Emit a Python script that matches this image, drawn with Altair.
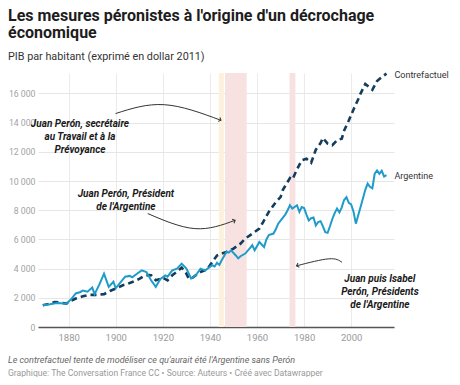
import altair as alt
import pandas as pd

# ---------------- data ----------------
arg_years = [1869, 1872, 1875, 1877, 1879, 1881, 1883, 1885, 1886, 1888, 1890, 1891, 1893, 1895,
             1897, 1899, 1900, 1902, 1904, 1906, 1907, 1909, 1911, 1913, 1915, 1917, 1919, 1921,
             1922, 1924, 1926, 1928, 1930, 1932, 1934, 1936, 1938, 1939, 1941, 1942, 1943, 1944,
             1945, 1947, 1948, 1949, 1951, 1952, 1953, 1955, 1957, 1958, 1959, 1961, 1962, 1963,
             1964, 1965, 1967, 1968, 1969, 1971, 1972, 1973, 1974, 1975, 1977, 1978, 1979, 1980,
             1981, 1982, 1983, 1984, 1985, 1986, 1987, 1988, 1989, 1990, 1991, 1992, 1993, 1994,
             1995, 1996, 1997, 1998, 1999, 2000, 2001, 2002, 2003, 2004, 2005, 2006, 2007, 2008,
             2009, 2010, 2011, 2012, 2013, 2014, 2015]
arg_values = [1490, 1560, 1650, 1620, 1600, 1900, 2300, 2400, 2500, 2420, 2700, 2250, 2900, 3650,
              2750, 3100, 2650, 3050, 3450, 3500, 3400, 3650, 3880, 3770, 3200, 2750, 3300, 3540,
              3450, 3880, 4000, 4340, 4000, 3320, 3540, 4000, 3880, 4000, 4230, 4150, 4400, 4250,
              4570, 5140, 5100, 5250, 4900, 4700, 4850, 5030, 5400, 5600, 5250, 5820, 5650, 5480,
              6000, 6300, 6400, 6700, 7080, 7500, 7700, 8000, 8340, 8110, 8340, 7880, 8220, 8150,
              7700, 7300, 7450, 7500, 6950, 7190, 7250, 6900, 6500, 6450, 6900, 7400, 7800, 8110,
              7850, 8200, 8700, 8900, 8500, 8400, 7900, 7080, 7650, 8220, 8800, 9400, 9820, 9600,
              9500, 10500, 10730, 10500, 10700, 10300, 10400]

cf_years = [1869, 1872, 1874, 1876, 1879, 1881, 1883, 1886, 1889, 1892, 1895, 1898, 1901, 1903,
            1905, 1907, 1910, 1912, 1914, 1915, 1917, 1919, 1920, 1922, 1924, 1926, 1928, 1930,
            1931, 1932, 1934, 1936, 1938, 1939, 1941, 1943, 1945, 1947, 1950, 1953, 1955, 1957,
            1959, 1961, 1963, 1965, 1968, 1970, 1971, 1974, 1975, 1977, 1979, 1981, 1983, 1985,
            1987, 1988, 1990, 1992, 1994, 1996, 1997, 1999, 2001, 2003, 2004, 2006, 2008, 2009,
            2011, 2013, 2015]
cf_values = [1490, 1600, 1700, 1680, 1600, 1800, 1950, 2100, 2200, 2200, 2250, 2500, 2700, 2860,
             2950, 3080, 3300, 3500, 3550, 3540, 3200, 3300, 3380, 3200, 3540, 3800, 4070, 3660,
             3320, 3300, 3540, 3770, 3900, 4000, 4450, 4900, 5030, 5140, 5370, 5710, 6060, 6280,
             6510, 6740, 7300, 7880, 8560, 8900, 9400, 10200, 10100, 10800, 11420, 11530, 11250, 12150,
             12600, 12950, 12560, 12450, 12790, 12900, 13450, 14150, 14900, 15600, 15990, 16650, 16380, 16250,
             16850, 17120, 17360]

band_start = [1943.8, 1946.4, 1973.8]
band_end = [1945.9, 1955.6, 1976.3]
band_kind = ["Secrétaire", "Président", "Président"]

x_ticks = [1880, 1900, 1920, 1940, 1960, 1980, 2000]
y_ticks = [0, 2000, 4000, 6000, 8000, 10000, 12000, 14000, 16000]

annot_text = [["Juan Perón, secrétaire", "au Travail et à la", "Prévoyance"],
              ["Juan Perón, Président", "de l'Argentine"],
              ["Juan puis Isabel", "Perón, Présidents", "de l'Argentine"]]
annot_year = [1884.8, 1904.3, 2012.2]
annot_value = [13930, 9140, 3320]

arrow_id = [1, 1, 1, 2, 2, 2, 3, 3, 3]
arrow_order = [0, 1, 2, 0, 1, 2, 0, 1, 2]
arrow_year = [1899.9, 1920.6, 1944.7, 1913.6, 1933.6, 1950.7, 1996.1, 1990.5, 1976.8]
arrow_value = [14620, 15230, 14160, 7770, 6740, 7310, 4430, 4670, 4190]
head_year = [1944.7, 1950.7, 1976.8]
head_value = [14160, 7310, 4190]
head_angle = [25, 335, 162]

# ---------------- styling ----------------
FONT = "Roboto"
W, H = 356, 254
LEFT = 30
ARG_COLOR = "#1f9bcb"
CF_COLOR = "#123d5e"

x_scale = alt.Scale(domain=[1866.96, 2018.2], nice=False, zero=False)
y_scale = alt.Scale(domain=[0, 17400], nice=False)

df_arg = pd.DataFrame({"year": arg_years, "value": arg_values})
df_cf = pd.DataFrame({"year": cf_years, "value": cf_values})
df_bands = pd.DataFrame({"start": band_start, "end": band_end, "kind": band_kind})
df_annot = pd.DataFrame({"text": annot_text, "year": annot_year, "value": annot_value})
df_arrows = pd.DataFrame({"id": arrow_id, "o": arrow_order, "year": arrow_year, "value": arrow_value})
df_heads = pd.DataFrame({"year": head_year, "value": head_value, "angle": head_angle})
df_lab = pd.DataFrame({"year": [cf_years[-1], arg_years[-1]],
                       "value": [cf_values[-1], arg_values[-1]],
                       "label": ["Contrefactuel", "Argentine"]})

x_axis = alt.Axis(values=x_ticks, format="d", title=None, ticks=False, grid=True,
                  gridColor="#ebebeb", domain=True, domainColor="#555", domainWidth=1.3,
                  labelFont=FONT, labelFontSize=9.5, labelColor="#9a9a9a", labelPadding=5,
                  labelOverlap=False)
y_axis = alt.Axis(values=y_ticks, title=None, ticks=False, grid=True, gridColor="#e6e6e6",
                  domain=False, labelFont=FONT, labelFontSize=8.7, labelColor="#a3a3a3",
                  labelPadding=3, labelOverlap=False,
                  labelExpr="replace(format(datum.value, ','), ',', ' ')")

X = lambda field: alt.X(field, scale=x_scale, axis=x_axis)
Y = lambda field: alt.Y(field, scale=y_scale, axis=y_axis)

bands = alt.Chart(df_bands).mark_rect().encode(
    x=X("start:Q"),
    x2="end:Q",
    color=alt.Color("kind:N", scale=alt.Scale(domain=["Secrétaire", "Président"],
                                               range=["#fcf1dc", "#f7e1e1"]), legend=None),
)

cf_line = alt.Chart(df_cf).mark_line(color=CF_COLOR, strokeWidth=2.6, strokeDash=[6, 4]).encode(
    x=X("year:Q"), y=Y("value:Q"),
)

arg_line = alt.Chart(df_arg).mark_line(color=ARG_COLOR, strokeWidth=2).encode(
    x=X("year:Q"), y=Y("value:Q"),
)

labels = alt.Chart(df_lab).mark_text(align="left", baseline="middle", dx=8, dy=1,
                                     font=FONT, fontSize=9, color="#333").encode(
    x=X("year:Q"), y=Y("value:Q"), text="label:N",
)

annots = alt.Chart(df_annot).mark_text(align="center", baseline="middle", font=FONT,
                                       fontSize=10, fontStyle="italic", fontWeight="bold",
                                       lineHeight=13, color="#1a1a1a").encode(
    x=X("year:Q"), y=Y("value:Q"), text="text",
)

arrows = alt.Chart(df_arrows).mark_line(color="#333", strokeWidth=1, interpolate="natural").encode(
    x=X("year:Q"), y=Y("value:Q"), detail="id:N", order="o:Q",
)

heads = alt.Chart(df_heads).mark_point(shape="M-1,-1L0,0L-1,1", filled=False, size=20,
                                       strokeWidth=1, color="#333", opacity=1).encode(
    x=X("year:Q"), y=Y("value:Q"), angle=alt.Angle("angle:Q", scale=None),
)

note = alt.Chart(pd.DataFrame({"t": ["Le contrefactuel tente de modéliser ce qu'aurait été l'Argentine sans Perón"]})).mark_text(
    align="left", baseline="alphabetic", font=FONT, fontSize=9, fontStyle="italic", color="#666"
).encode(x=alt.value(-LEFT), y=alt.value(H + 35.5), text="t:N")

source = alt.Chart(pd.DataFrame({"t": ["Graphique: The Conversation France CC • Source: Auteurs • Créé avec Datawrapper"]})).mark_text(
    align="left", baseline="alphabetic", font=FONT, fontSize=8.6, color="#999"
).encode(x=alt.value(-LEFT), y=alt.value(H + 48.5), text="t:N")

chart = alt.layer(bands, cf_line, arg_line, labels, arrows, heads, annots, note, source).properties(
    width=W, height=H,
    autosize=alt.AutoSizeParams(type="none"),
    padding={"left": LEFT, "top": 65, "right": 58, "bottom": 50},
    title=alt.Title(
        ["Les mesures péronistes à l'origine d'un décrochage", "économique"],
        subtitle="PIB par habitant (exprimé en dollar 2011)",
        anchor="start", frame="group", dx=-LEFT, offset=7,
        font=FONT, fontSize=16, fontWeight="bold", color="#1d1d1d", lineHeight=17.5,
        subtitleFont=FONT, subtitleFontSize=10.8, subtitleColor="#333", subtitlePadding=9.5,
    ),
).configure_view(stroke=None).configure_axis(labelOverlap=False)

chart.save("out.html", embed_options={"renderer": "svg", "actions": False})
